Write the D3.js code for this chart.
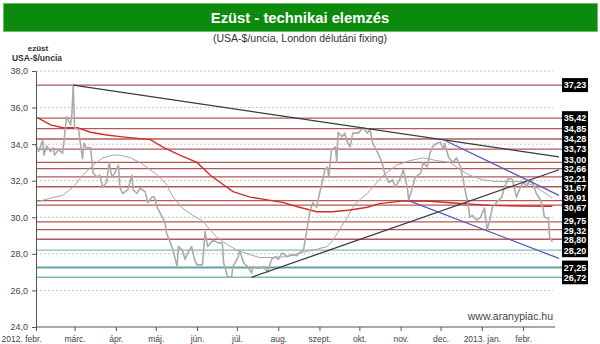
<!DOCTYPE html>
<html>
<head>
<meta charset="utf-8">
<script src="https://cdn.jsdelivr.net/npm/d3@7"></script>
<style>
  body { margin: 0; background: #fff; }
  svg { display: block; font-family: "Liberation Sans", Arial, sans-serif; }
</style>
</head>
<body>
<svg width="600" height="344"></svg>
<script>
// Daily-ish readings of the silver fix (USA-$/uncia)
var price = [
  ["2012-02-01",33.95],["2012-02-03",33.6],["2012-02-06",34.2],["2012-02-07",33.4],["2012-02-09",33.9],
  ["2012-02-12",33.6],["2012-02-14",33.8],["2012-02-15",33.4],["2012-02-18",33.7],["2012-02-21",33.5],
  ["2012-02-24",35.5],["2012-02-27",35.05],["2012-02-28",35.7],["2012-02-29",37.23],["2012-03-01",34.9],
  ["2012-03-04",34.8],["2012-03-05",34.2],["2012-03-07",33.2],["2012-03-08",34.05],["2012-03-10",33.8],
  ["2012-03-13",33.8],["2012-03-14",33.1],["2012-03-15",32.4],["2012-03-18",32.2],["2012-03-20",32.3],
  ["2012-03-22",31.65],["2012-03-25",31.9],["2012-03-27",33.0],["2012-03-29",32.2],["2012-03-31",32.4],
  ["2012-04-03",32.85],["2012-04-04",31.65],["2012-04-06",31.3],["2012-04-10",31.5],["2012-04-13",32.3],
  ["2012-04-14",31.5],["2012-04-17",31.3],["2012-04-19",31.6],["2012-04-23",31.4],["2012-04-25",30.8],
  ["2012-04-28",31.1],["2012-04-30",31.1],["2012-05-02",30.55],["2012-05-06",30.0],["2012-05-08",29.7],
  ["2012-05-09",29.15],["2012-05-12",28.6],["2012-05-14",28.2],["2012-05-17",27.3],["2012-05-18",28.4],
  ["2012-05-21",28.2],["2012-05-23",27.7],["2012-05-25",28.05],["2012-05-28",28.4],["2012-05-30",27.7],
  ["2012-06-01",27.4],["2012-06-05",27.4],["2012-06-06",28.2],["2012-06-07",29.2],["2012-06-09",28.4],
  ["2012-06-13",28.75],["2012-06-17",28.6],["2012-06-20",28.6],["2012-06-21",27.5],["2012-06-24",26.75],
  ["2012-06-27",26.75],["2012-06-28",27.3],["2012-07-02",27.85],["2012-07-03",28.2],["2012-07-06",27.5],
  ["2012-07-09",27.3],["2012-07-12",26.95],["2012-07-13",27.3],["2012-07-17",27.2],["2012-07-21",27.3],
  ["2012-07-24",27.0],["2012-07-27",27.7],["2012-07-30",27.85],["2012-08-01",27.7],["2012-08-04",28.05],
  ["2012-08-08",27.85],["2012-08-11",27.95],["2012-08-15",27.9],["2012-08-17",28.05],["2012-08-20",28.2],
  ["2012-08-23",29.5],["2012-08-25",30.4],["2012-08-27",30.8],["2012-08-30",30.55],["2012-08-31",30.95],
  ["2012-09-03",31.9],["2012-09-05",32.6],["2012-09-07",32.75],["2012-09-08",32.2],["2012-09-10",33.7],
  ["2012-09-13",33.85],["2012-09-14",33.0],["2012-09-15",34.65],["2012-09-18",34.4],["2012-09-20",34.6],
  ["2012-09-22",34.1],["2012-09-24",33.85],["2012-09-26",34.6],["2012-09-30",34.6],["2012-10-04",34.9],
  ["2012-10-07",34.6],["2012-10-09",34.8],["2012-10-11",34.05],["2012-10-15",33.5],["2012-10-18",33.0],
  ["2012-10-20",32.4],["2012-10-23",31.9],["2012-10-26",32.05],["2012-10-28",31.65],["2012-11-01",32.15],
  ["2012-11-03",32.6],["2012-11-06",31.65],["2012-11-07",30.95],["2012-11-10",31.65],["2012-11-12",32.2],
  ["2012-11-16",32.4],["2012-11-18",33.0],["2012-11-21",32.75],["2012-11-23",33.5],["2012-11-25",33.85],
  ["2012-11-28",34.05],["2012-12-01",34.1],["2012-12-03",33.7],["2012-12-04",34.05],["2012-12-07",33.3],
  ["2012-12-10",33.0],["2012-12-13",33.25],["2012-12-16",32.75],["2012-12-18",32.05],["2012-12-19",31.65],
  ["2012-12-21",30.95],["2012-12-22",30.55],["2012-12-23",30.0],["2012-12-25",30.1],["2012-12-28",29.85],
  ["2012-12-31",30.0],["2013-01-03",30.5],["2013-01-05",29.3],["2013-01-07",29.85],["2013-01-09",30.55],
  ["2013-01-12",30.8],["2013-01-16",31.1],["2013-01-18",31.65],["2013-01-21",32.15],["2013-01-24",32.05],
  ["2013-01-27",31.1],["2013-01-30",31.65],["2013-02-01",31.9],["2013-02-04",31.7],["2013-02-06",32.05],
  ["2013-02-08",31.9],["2013-02-11",31.3],["2013-02-14",30.95],["2013-02-16",30.5],["2013-02-17",30.0],
  ["2013-02-20",29.95],["2013-02-21",28.9],["2013-02-23",28.65]
];

// short moving average (thin grey)
var maShort = [
  ["2012-02-02",30.85],["2012-02-12",31.05],["2012-02-21",31.2],["2012-02-29",31.65],["2012-03-07",32.3],
  ["2012-03-15",32.85],["2012-03-22",33.25],["2012-03-30",33.4],["2012-04-04",33.4],["2012-04-12",33.25],
  ["2012-04-19",33.0],["2012-04-27",32.6],["2012-05-04",32.2],["2012-05-09",31.8],["2012-05-14",31.1],
  ["2012-05-21",30.5],["2012-05-29",30.1],["2012-06-05",29.8],["2012-06-16",28.9],["2012-06-24",28.5],
  ["2012-07-01",28.2],["2012-07-11",27.95],["2012-07-18",27.8],["2012-07-28",27.8],["2012-08-08",27.85],
  ["2012-08-17",28.05],["2012-08-27",28.2],["2012-09-07",28.4],["2012-09-11",28.75],["2012-09-16",29.3],
  ["2012-09-22",30.0],["2012-09-26",30.55],["2012-10-01",30.95],["2012-10-07",31.3],["2012-10-11",31.65],
  ["2012-10-19",32.3],["2012-10-29",32.85],["2012-11-08",33.1],["2012-11-18",33.25],["2012-11-28",33.1],
  ["2012-12-08",33.0],["2012-12-16",32.6],["2012-12-23",32.3],["2013-01-02",32.05],["2013-01-12",31.95],
  ["2013-01-22",31.95],["2013-02-01",31.95],["2013-02-08",31.75],["2013-02-16",31.4],["2013-02-23",31.05]
];

// long moving average (red)
var maLong = [
  ["2012-02-02",35.45],["2012-02-12",35.05],["2012-02-21",34.9],["2012-03-03",34.9],["2012-03-13",34.65],
  ["2012-03-25",34.5],["2012-04-06",34.4],["2012-04-19",34.3],["2012-04-27",34.25],["2012-05-06",33.85],
  ["2012-05-19",33.4],["2012-06-01",33.0],["2012-06-11",32.3],["2012-06-28",31.4],["2012-07-11",31.1],
  ["2012-07-24",30.95],["2012-08-05",30.8],["2012-08-17",30.55],["2012-08-30",30.3],["2012-09-11",30.3],
  ["2012-09-24",30.4],["2012-10-07",30.55],["2012-10-16",30.75],["2012-11-03",30.9],["2012-11-23",30.88],
  ["2012-12-16",30.75],["2013-01-07",30.65],["2013-01-30",30.62],["2013-02-23",30.6]
];

// horizontal levels
var resistanceLevels = [37.23, 35.42, 34.85, 34.28, 33.73, 33.00, 32.66, 32.21, 31.67, 30.91, 30.67, 29.75, 29.32, 28.80];
var supportLevels = [28.20, 27.25, 26.72];

// trend lines: [start, end]
var trendBlack = [
  [["2012-02-29",37.23],["2013-02-28",33.3]],
  [["2012-07-12",26.72],["2013-02-28",32.6]]
];
var trendBlue = [
  [["2012-12-02",34.28],["2013-02-28",31.2]],
  [["2012-11-07",30.91],["2013-02-28",27.75]]
];

var monthLabels = ["2012. febr.", "márc.", "ápr.", "máj.", "jún.", "júl.", "aug.", "szept.", "okt.", "nov.", "dec.", "2013. jan.", "febr."];
var yTicks = [24, 26, 28, 30, 32, 34, 36, 38];

var svg = d3.select("svg");
var parse = d3.timeParse("%Y-%m-%d");
var plotL = 36, plotR = 555, plotT = 71, plotB = 327, lineEnd = 562, boxX = 562, boxW = 26;

var x = d3.scaleTime()
  .domain([parse("2012-02-01"), parse("2013-02-25")])
  .range([plotL, plotR]);
var y = d3.scaleLinear()
  .domain([24, 38])
  .range([plotB, plotT]);
var comma = function(v, f) { return d3.format(f)(v).replace(".", ","); };

// title bar
svg.append("rect")
  .attr("x", 3.5).attr("y", 3.5).attr("width", 594).attr("height", 28)
  .attr("fill", "#0b8a0b").attr("stroke", "#6cbf6c");
svg.append("text")
  .attr("x", 300).attr("y", 23).attr("text-anchor", "middle")
  .attr("fill", "#fff").attr("font-weight", "bold").attr("font-size", 14.8)
  .text("Ezüst - technikai elemzés");
svg.append("text")
  .attr("x", 300).attr("y", 41.5).attr("text-anchor", "middle")
  .attr("fill", "#333").attr("font-size", 10.5)
  .text("(USA-$/uncia, London délutáni fixing)");
svg.append("text")
  .attr("x", 38).attr("y", 51).attr("text-anchor", "middle")
  .attr("fill", "#333").attr("font-weight", "bold").attr("font-size", 8)
  .text("ezüst");
svg.append("text")
  .attr("x", 37).attr("y", 61).attr("text-anchor", "middle")
  .attr("fill", "#333").attr("font-weight", "bold").attr("font-size", 8.5)
  .text("USA-$/uncia");

// dotted grid
svg.append("g")
  .selectAll("line")
  .data(yTicks.filter(function(d) { return d > 24; }))
  .enter().append("line")
    .attr("x1", plotL).attr("x2", plotR - 2)
    .attr("y1", function(d) { return y(d); }).attr("y2", function(d) { return y(d); })
    .attr("stroke", "#c4c4c4").attr("stroke-dasharray", "2,2");

// level lines
var levelG = svg.append("g");
levelG.selectAll(".res")
  .data(resistanceLevels)
  .enter().append("line")
    .attr("x1", plotL).attr("x2", lineEnd)
    .attr("y1", function(d) { return y(d); }).attr("y2", function(d) { return y(d); })
    .attr("stroke", "#b05a5a").attr("stroke-width", 1.3);
levelG.selectAll(".sup")
  .data(supportLevels)
  .enter().append("line")
    .attr("x1", plotL).attr("x2", lineEnd)
    .attr("y1", function(d) { return y(d); }).attr("y2", function(d) { return y(d); })
    .attr("stroke", function(d, i) { return i == 1 ? "#5fa3a3" : "#7fbcbc"; })
    .attr("stroke-width", function(d, i) { return i == 1 ? 2 : 1.3; });

var line = d3.line()
  .x(function(d) { return x(parse(d[0])); })
  .y(function(d) { return y(d[1]); });

svg.append("path").datum(maShort)
  .attr("d", line).attr("fill", "none").attr("stroke", "#a6a6a6").attr("stroke-width", 1);
svg.append("path").datum(maLong)
  .attr("d", line).attr("fill", "none").attr("stroke", "#d02c2c").attr("stroke-width", 1.4);
svg.append("path").datum(price)
  .attr("d", line).attr("fill", "none").attr("stroke", "#ababab").attr("stroke-width", 1.6)
  .attr("stroke-linejoin", "round");

svg.append("g").selectAll("path")
  .data(trendBlack).enter().append("path")
    .attr("d", line).attr("fill", "none").attr("stroke", "#3a3a3a").attr("stroke-width", 1.3);
svg.append("g").selectAll("path")
  .data(trendBlue).enter().append("path")
    .attr("d", line).attr("fill", "none").attr("stroke", "#5a5ab4").attr("stroke-width", 1.3);

// axes
var yAxis = svg.append("g")
  .attr("transform", "translate(" + plotL + ",0)")
  .call(d3.axisLeft(y).tickValues(yTicks).tickSize(4).tickFormat(function(d) { return comma(d, ".1f"); }));
yAxis.selectAll("text").attr("font-size", 9).attr("fill", "#444").attr("dx", -1);

var months = d3.timeMonth.range(parse("2012-02-01"), parse("2013-02-02"));
var xAxis = svg.append("g")
  .attr("transform", "translate(0," + plotB + ")")
  .call(d3.axisBottom(x).tickValues(months).tickSize(4).tickFormat(function(d, i) { return monthLabels[i]; }));
xAxis.select(".domain").attr("d", "M" + plotL + ",0H" + plotR);
xAxis.selectAll("text").attr("font-size", 8.5).attr("fill", "#444").attr("dy", "0.95em");
xAxis.selectAll("text").filter(function(d, i) { return i == 0; })
  .attr("text-anchor", "start").attr("x", 1 - plotL);
svg.selectAll(".domain, .tick line").attr("stroke", "#555");

// watermark
svg.append("text")
  .attr("x", 553).attr("y", 320).attr("text-anchor", "end")
  .attr("fill", "#444").attr("font-size", 10.5)
  .text("www.aranypiac.hu");

// value labels in black boxes
var labels = resistanceLevels.concat(supportLevels)
  .map(function(v) { return { v: v, y: y(v), ly: y(v) }; })
  .sort(function(a, b) { return a.y - b.y; });
var groups = [];
labels.forEach(function(l, i) {
  if (i == 0 || l.y - labels[i - 1].y > 17) groups.push([]);
  groups[groups.length - 1].push(l);
});
var minGap = 9.4;
for (var k = 0; k < 80; k++) {
  for (var i = 1; i < labels.length; i++) {
    var a = labels[i - 1], b = labels[i], gap = b.ly - a.ly;
    if (gap < minGap) { a.ly -= (minGap - gap) / 2; b.ly += (minGap - gap) / 2; }
  }
}
svg.append("g").selectAll("rect")
  .data(groups).enter().append("rect")
    .attr("x", boxX).attr("width", boxW)
    .attr("y", function(g) { return g[0].ly - 7; })
    .attr("height", function(g) { return g[g.length - 1].ly - g[0].ly + 14; })
    .attr("fill", "#000");
svg.append("g").selectAll("text")
  .data(labels).enter().append("text")
    .attr("x", boxX + boxW / 2).attr("y", function(d) { return d.ly + 3.3; })
    .attr("text-anchor", "middle").attr("fill", "#fff")
    .attr("font-weight", "bold").attr("font-size", 9)
    .text(function(d) { return comma(d.v, ".2f"); });
</script>
</body>
</html>
